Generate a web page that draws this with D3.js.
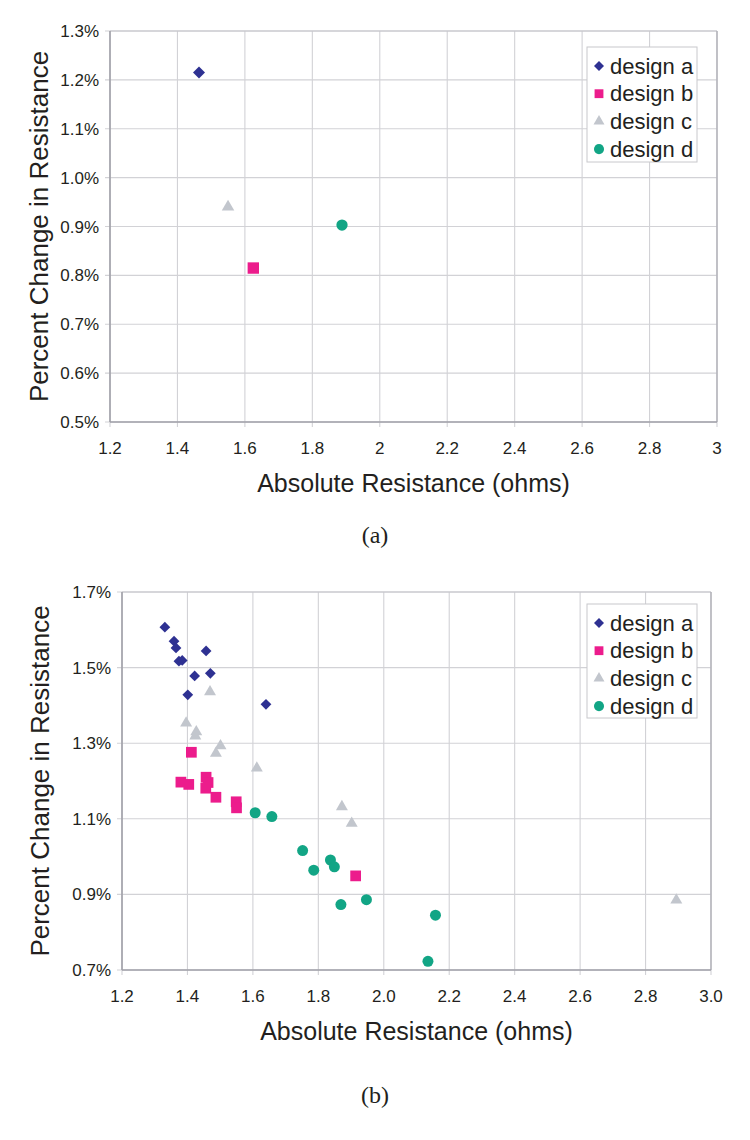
<!DOCTYPE html>
<html>
<head>
<meta charset="utf-8">
<script src="https://cdn.jsdelivr.net/npm/d3@7"></script>
<style>
  html, body { margin: 0; padding: 0; background: #fff; }
  svg { display: block; }
</style>
</head>
<body>
<svg id="chart" width="750" height="1140"></svg>
<script>
// ---------- DATA ----------
const seriesNames = ["design a", "design b", "design c", "design d"];

// Chart (a): [absolute resistance (ohms), percent change (%)]
const chartA_designA = [[1.464, 1.215]];
const chartA_designB = [[1.625, 0.815]];
const chartA_designC = [[1.550, 0.940]];
const chartA_designD = [[1.888, 0.903]];

// Chart (b)
const chartB_designA = [[1.331, 1.607], [1.359, 1.570], [1.365, 1.552], [1.374, 1.517], [1.384, 1.519],
                        [1.457, 1.544], [1.422, 1.478], [1.470, 1.485], [1.401, 1.428], [1.640, 1.403]];
const chartB_designB = [[1.412, 1.276], [1.380, 1.197], [1.404, 1.191], [1.457, 1.210], [1.463, 1.196],
                        [1.456, 1.181], [1.487, 1.157], [1.549, 1.145], [1.550, 1.129], [1.914, 0.949]];
const chartB_designC = [[1.469, 1.436], [1.396, 1.353], [1.427, 1.330], [1.424, 1.319], [1.501, 1.293],
                        [1.487, 1.273], [1.612, 1.234], [1.872, 1.132], [1.902, 1.088], [2.894, 0.885]];
const chartB_designD = [[1.607, 1.116], [1.658, 1.106], [1.752, 1.016], [1.786, 0.964], [1.837, 0.991],
                        [1.849, 0.973], [1.869, 0.873], [1.947, 0.886], [2.158, 0.845], [2.135, 0.723]];

// Tick values and labels
const chartA_xTicks = [1.2, 1.4, 1.6, 1.8, 2.0, 2.2, 2.4, 2.6, 2.8, 3.0];
const chartA_xTickLabels = ["1.2", "1.4", "1.6", "1.8", "2", "2.2", "2.4", "2.6", "2.8", "3"];
const chartA_yTicks = [0.5, 0.6, 0.7, 0.8, 0.9, 1.0, 1.1, 1.2, 1.3];
const chartA_yTickLabels = ["0.5%", "0.6%", "0.7%", "0.8%", "0.9%", "1.0%", "1.1%", "1.2%", "1.3%"];

const chartB_xTicks = [1.2, 1.4, 1.6, 1.8, 2.0, 2.2, 2.4, 2.6, 2.8, 3.0];
const chartB_xTickLabels = ["1.2", "1.4", "1.6", "1.8", "2.0", "2.2", "2.4", "2.6", "2.8", "3.0"];
const chartB_yTicks = [0.7, 0.9, 1.1, 1.3, 1.5, 1.7];
const chartB_yTickLabels = ["0.7%", "0.9%", "1.1%", "1.3%", "1.5%", "1.7%"];

const xTitle = "Absolute Resistance (ohms)";
const yTitle = "Percent Change in Resistance";

// ---------- STYLE ----------
const colors = ["#2E3192", "#EC1C8C", "#C2C6CD", "#12A585"];
const shapes = ["diamond", "square", "triangle", "circle"];
const FONT = "'Liberation Sans', Arial, Helvetica, sans-serif";
const TEXT = "#231F20";

const svg = d3.select("#chart");

function symbolPath(shape, size) {
  if (shape === "diamond") return d3.symbol().type(d3.symbolSquare).size(size)();
  if (shape === "square") return d3.symbol().type(d3.symbolSquare).size(size)();
  if (shape === "triangle") return d3.symbol().type(d3.symbolTriangle).size(size)();
  return d3.symbol().type(d3.symbolCircle).size(size)();
}

function drawChart(cfg) {
  const g = svg.append("g");
  const x = d3.scaleLinear().domain(cfg.xDomain).range([cfg.left, cfg.right]);
  const y = d3.scaleLinear().domain(cfg.yDomain).range([cfg.bottom, cfg.top]);

  // gridlines
  g.append("g").selectAll("line.v").data(cfg.xTicks).join("line")
    .attr("x1", d => x(d)).attr("x2", d => x(d))
    .attr("y1", cfg.top).attr("y2", cfg.bottom + 5)
    .attr("stroke", "#D2D2D6").attr("stroke-width", 1.1);
  g.append("g").selectAll("line.h").data(cfg.yTicks).join("line")
    .attr("x1", cfg.left - 5).attr("x2", cfg.right)
    .attr("y1", d => y(d)).attr("y2", d => y(d))
    .attr("stroke", "#D2D2D6").attr("stroke-width", 1.1);

  // frame
  g.append("line").attr("x1", cfg.left).attr("x2", cfg.right).attr("y1", cfg.top).attr("y2", cfg.top)
    .attr("stroke", "#C4C4CA").attr("stroke-width", 1.2);
  g.append("line").attr("x1", cfg.right).attr("x2", cfg.right).attr("y1", cfg.top).attr("y2", cfg.bottom)
    .attr("stroke", "#B0B0B8").attr("stroke-width", 1.4);
  g.append("line").attr("x1", cfg.left).attr("x2", cfg.left).attr("y1", cfg.top).attr("y2", cfg.bottom)
    .attr("stroke", "#A0A0A8").attr("stroke-width", 1.6);
  g.append("line").attr("x1", cfg.left).attr("x2", cfg.right).attr("y1", cfg.bottom).attr("y2", cfg.bottom)
    .attr("stroke", "#A0A0A8").attr("stroke-width", 1.6);

  // tick labels
  g.append("g").selectAll("text").data(cfg.xTicks).join("text")
    .attr("x", d => x(d)).attr("y", cfg.bottom + 32)
    .attr("text-anchor", "middle")
    .attr("font-family", FONT).attr("font-size", 17).attr("fill", TEXT)
    .text((d, i) => cfg.xTickLabels[i]);
  g.append("g").selectAll("text").data(cfg.yTicks).join("text")
    .attr("x", cfg.left - 11).attr("y", d => y(d) + 6)
    .attr("text-anchor", "end")
    .attr("font-family", FONT).attr("font-size", 17).attr("fill", TEXT)
    .text((d, i) => cfg.yTickLabels[i]);

  // axis titles
  g.append("text")
    .attr("x", (cfg.left + cfg.right) / 2).attr("y", cfg.bottom + 70)
    .attr("text-anchor", "middle")
    .attr("font-family", FONT).attr("font-size", 25).attr("fill", TEXT)
    .text(xTitle);
  g.append("text")
    .attr("transform", `translate(${cfg.yTitleX},${(cfg.top + cfg.bottom) / 2}) rotate(-90)`)
    .attr("text-anchor", "middle")
    .attr("font-family", FONT).attr("font-size", 26).attr("fill", TEXT)
    .text(yTitle);

  // points
  cfg.series.forEach((pts, i) => {
    g.append("g").selectAll("path").data(pts).join("path")
      .attr("d", symbolPath(shapes[i], cfg.sizes[i]))
      .attr("transform", d => `translate(${x(d[0])},${y(d[1])})` + (shapes[i] === "diamond" ? " rotate(45)" : ""))
      .attr("fill", colors[i]);
  });

  // legend
  const lg = g.append("g");
  lg.append("rect")
    .attr("x", cfg.legend.x).attr("y", cfg.legend.y)
    .attr("width", cfg.legend.w).attr("height", cfg.legend.h)
    .attr("fill", "#fff").attr("stroke", "#C8C8CC").attr("stroke-width", 1);
  const legendSizes = [50, 78, 52, 80];
  seriesNames.forEach((name, i) => {
    const cy = cfg.legend.y + 19 + i * 27.7;
    lg.append("path")
      .attr("d", symbolPath(shapes[i], legendSizes[i]))
      .attr("transform", `translate(${cfg.legend.x + 12},${cy})` + (shapes[i] === "diamond" ? " rotate(45)" : ""))
      .attr("fill", colors[i]);
    lg.append("text")
      .attr("x", cfg.legend.x + 23).attr("y", cy + 7.5)
      .attr("font-family", FONT).attr("font-size", 22).attr("fill", TEXT)
      .text(name);
  });

  // caption
  svg.append("text")
    .attr("x", 375).attr("y", cfg.captionY)
    .attr("text-anchor", "middle")
    .attr("font-family", "'Liberation Serif', 'Times New Roman', serif")
    .attr("font-size", 24).attr("fill", TEXT)
    .text(cfg.caption);
}

drawChart({
  left: 110, right: 717, top: 31, bottom: 422,
  xDomain: [1.2, 3.0], yDomain: [0.5, 1.3],
  xTicks: chartA_xTicks, xTickLabels: chartA_xTickLabels,
  yTicks: chartA_yTicks, yTickLabels: chartA_yTickLabels,
  series: [chartA_designA, chartA_designB, chartA_designC, chartA_designD],
  sizes: [72, 130, 68, 100],
  yTitleX: 48,
  legend: { x: 587, y: 47, w: 110, h: 115 },
  caption: "(a)", captionY: 543
});

drawChart({
  left: 122, right: 711, top: 592, bottom: 970,
  xDomain: [1.2, 3.0], yDomain: [0.7, 1.7],
  xTicks: chartB_xTicks, xTickLabels: chartB_xTickLabels,
  yTicks: chartB_yTicks, yTickLabels: chartB_yTickLabels,
  series: [chartB_designA, chartB_designB, chartB_designC, chartB_designD],
  sizes: [58, 115, 62, 95],
  yTitleX: 49,
  legend: { x: 587, y: 604, w: 110, h: 114 },
  caption: "(b)", captionY: 1103
});
</script>
</body>
</html>
